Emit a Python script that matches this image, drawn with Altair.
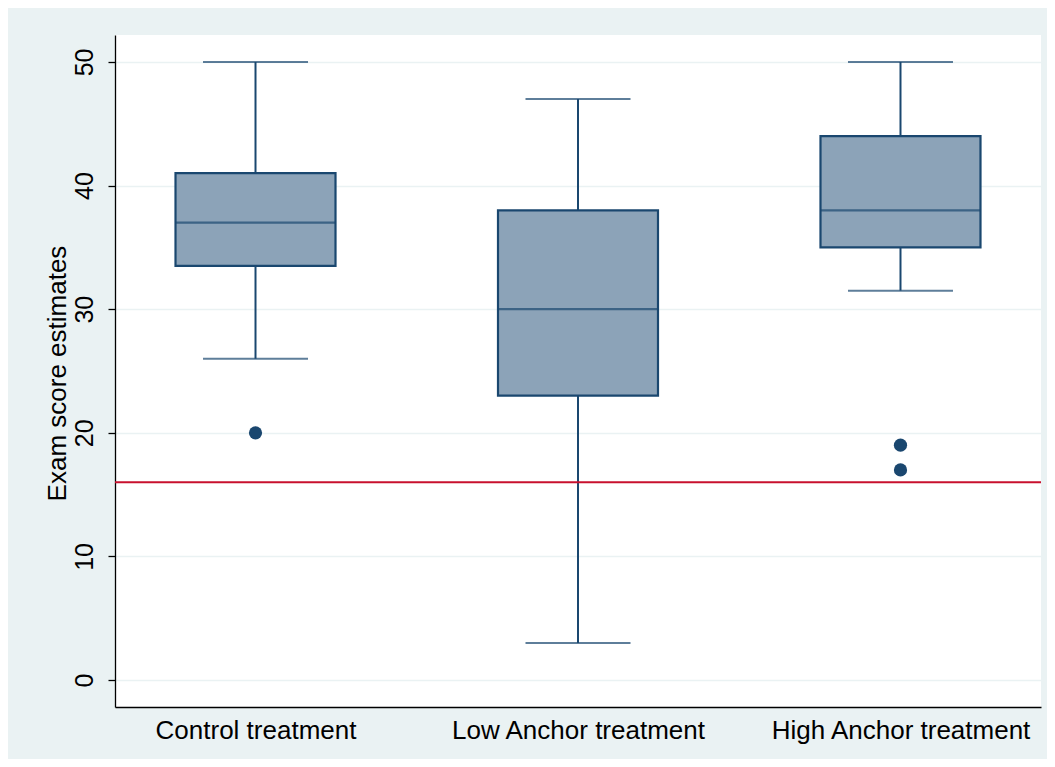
import altair as alt
import pandas as pd

# ---- data ----
categories = ["Control treatment", "Low Anchor treatment", "High Anchor treatment"]
whisker_low = [26, 3, 31.5]
q1 = [33.5, 23, 35]
median = [37, 30, 38]
q3 = [41, 38, 44]
whisker_high = [50, 47, 50]

outlier_group = ["Control treatment", "High Anchor treatment", "High Anchor treatment"]
outlier_value = [20, 19, 17]

reference_value = [16]
y_ticks = [0, 10, 20, 30, 40, 50]

# ---- styling ----
NAVY = "#1A476F"
FILL = "#8CA3B8"
BG = "#EAF2F3"
RED = "#C8102E"
FONT = "Liberation Sans"

stats = pd.DataFrame({
    "group": categories,
    "lo": whisker_low,
    "q1": q1,
    "med": median,
    "q3": q3,
    "hi": whisker_high,
})
outliers = pd.DataFrame({"group": outlier_group, "value": outlier_value})
ref = pd.DataFrame({"value": reference_value})

x_scale = alt.Scale(type="point", domain=categories, padding=0.4357)
y_scale = alt.Scale(domain=[-2.18, 52.18], nice=False, zero=False)

x_enc = alt.X("group:N", scale=x_scale, sort=categories,
              axis=alt.Axis(title=None, ticks=False, tickSize=0, labelPadding=31,
                            labelBaseline="alphabetic", labelFontSize=26,
                            labelFont=FONT, labelColor="black", grid=False,
                            labelLimit=0, labelOverlap=False,
                            domainColor="black", domainWidth=1.3, labelAngle=0))

y_axis = alt.Axis(title="Exam score estimates", values=y_ticks, tickSize=7,
                  tickColor="black", tickWidth=1.3, domainColor="black",
                  domainWidth=1.3, labelAngle=-90, labelAlign="center",
                  labelBaseline="bottom", labelPadding=11, labelFontSize=25,
                  labelFont=FONT, labelColor="black", titleFont=FONT,
                  titleFontSize=26, titleFontWeight="normal", titleColor="black",
                  titleX=-45, titleY=338, titleBaseline="bottom", titleAngle=-90,
                  titleAlign="center", grid=True, gridColor=BG, gridWidth=1.5)

base = alt.Chart(stats)

whisker = base.mark_rule(color=NAVY, strokeWidth=2).encode(
    x=x_enc,
    y=alt.Y("lo:Q", scale=y_scale, axis=y_axis),
    y2="hi:Q",
)

box = base.mark_bar(size=160, color=FILL, stroke=NAVY, strokeWidth=2.2).encode(
    x=alt.X("group:N", scale=x_scale, sort=categories),
    y=alt.Y("q1:Q", scale=y_scale),
    y2="q3:Q",
)

med = base.mark_tick(size=160, thickness=2.2, color=NAVY, orient="horizontal").encode(
    x=alt.X("group:N", scale=x_scale, sort=categories),
    y=alt.Y("med:Q", scale=y_scale),
)

cap_hi = base.mark_tick(size=105, thickness=2, color=NAVY, orient="horizontal").encode(
    x=alt.X("group:N", scale=x_scale, sort=categories),
    y=alt.Y("hi:Q", scale=y_scale),
)

cap_lo = base.mark_tick(size=105, thickness=2, color=NAVY, orient="horizontal").encode(
    x=alt.X("group:N", scale=x_scale, sort=categories),
    y=alt.Y("lo:Q", scale=y_scale),
)

points = alt.Chart(outliers).mark_circle(size=175, color=NAVY, opacity=1).encode(
    x=alt.X("group:N", scale=x_scale, sort=categories),
    y=alt.Y("value:Q", scale=y_scale),
)

refline = alt.Chart(ref).mark_rule(color=RED, strokeWidth=2).encode(
    y=alt.Y("value:Q", scale=y_scale),
)

chart = alt.layer(whisker, box, med, cap_hi, cap_lo, points, refline).properties(
    width=926,
    height=672,
    background=BG,
    padding={"left": 107, "top": 27, "right": 6, "bottom": 52},
    autosize=alt.AutoSizeParams(type="none"),
).configure_view(fill="white", stroke=None)

chart.save("out.html", embed_options={"renderer": "svg", "actions": False})
